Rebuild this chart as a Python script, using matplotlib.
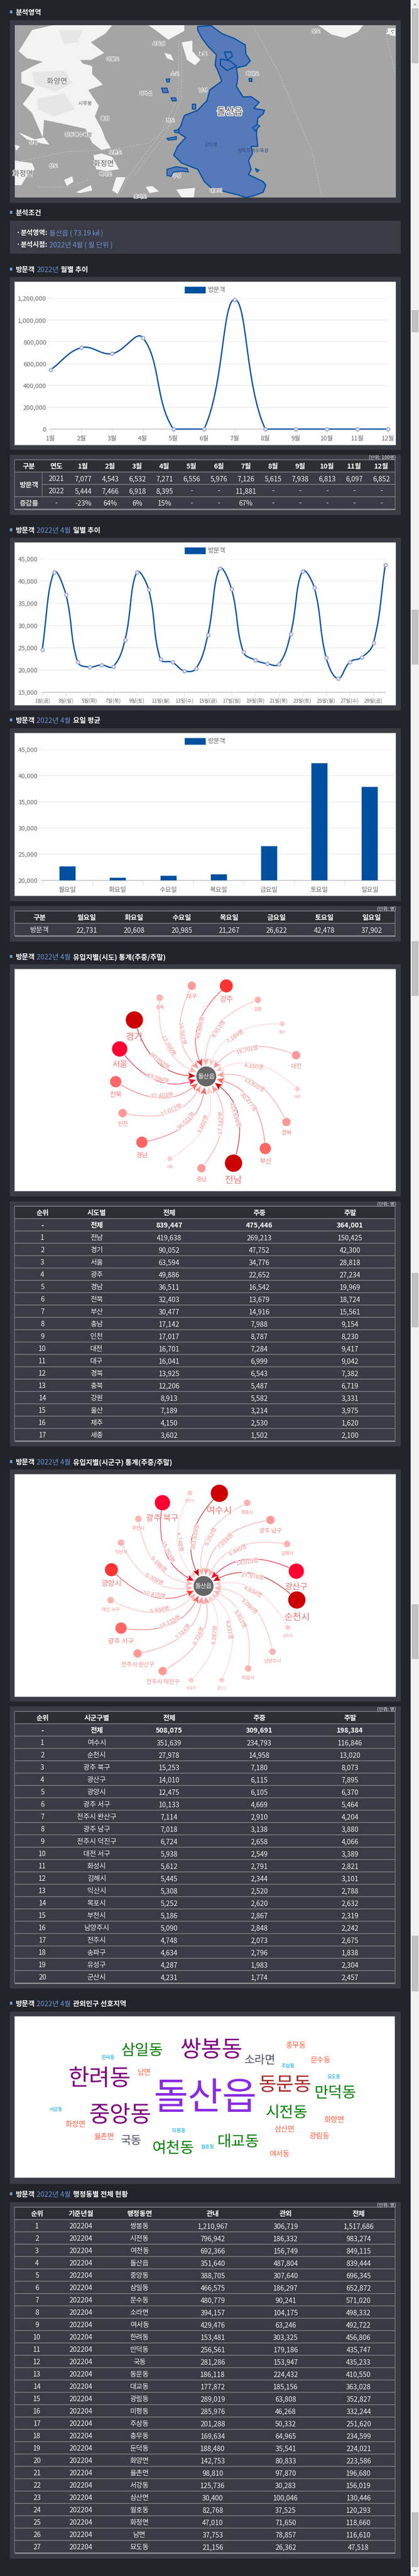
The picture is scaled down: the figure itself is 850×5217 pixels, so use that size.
import math
import matplotlib
matplotlib.use('Agg')
import matplotlib.pyplot as plt
from matplotlib.patches import Rectangle, Circle, Polygon, PathPatch, Patch
from matplotlib.path import Path
import matplotlib.patheffects as pe
from matplotlib.ticker import FuncFormatter

plt.rcParams['font.family'] = ['Noto Sans CJK KR', 'DejaVu Sans']

# ---------- data ----------
months = ['1월', '2월', '3월', '4월', '5월', '6월', '7월', '8월', '9월', '10월', '11월', '12월']
visitors_2021 = [7077, 4543, 6532, 7271, 6556, 5976, 7126, 5615, 7938, 6813, 6097, 6852]
visitors_2022 = [5444, 7466, 6918, 8395, None, None, 11881, None, None, None, None, None]
change_rate = ['-23%', '64%', '6%', '15%', '-', '-', '67%', '-', '-', '-', '-', '-']

day_labels = ['1일(금)', '3일(일)', '5일(화)', '7일(목)', '9일(토)', '11일(월)', '13일(수)', '15일(금)',
              '17일(일)', '19일(화)', '21일(목)', '23일(토)', '25일(월)', '27일(수)', '29일(금)']
daily_visitors = [24600, 42040, 37000, 21800, 20670, 21150, 20780, 26780, 42040, 38070,
                  22400, 21740, 19820, 20330, 27850, 42850, 38260, 24070, 22260, 21440,
                  21330, 28150, 42260, 38520, 22820, 18070, 21820, 22850, 26070, 43670]

weekdays = ['월요일', '화요일', '수요일', '목요일', '금요일', '토요일', '일요일']
weekday_avg = [22731, 20608, 20985, 21267, 26622, 42478, 37902]

sido_names = ['전남', '경기', '서울', '광주', '경남', '전북', '부산', '충남', '인천', '대전', '대구',
              '경북', '충북', '강원', '울산', '제주', '세종']
sido_total = [419638, 90052, 63594, 49886, 36511, 32403, 30477, 17142, 17017, 16701, 16041,
              13925, 12206, 8913, 7189, 4150, 3602]
sido_weekday = [269213, 47752, 34776, 22652, 16542, 13679, 14916, 7988, 8787, 7284, 6999,
                6543, 5487, 5582, 3214, 2530, 1502]
sido_weekend = [150425, 42300, 28818, 27234, 19969, 18724, 15561, 9154, 8230, 9417, 9042,
                7382, 6719, 3331, 3975, 1620, 2100]
sido_sum = [839447, 475446, 364001]

sgg_names = ['여수시', '순천시', '광주 북구', '광산구', '광양시', '광주 서구', '전주시 완산구', '광주 남구',
             '전주시 덕진구', '대전 서구', '화성시', '김해시', '익산시', '목포시', '부천시', '남양주시',
             '전주시', '송파구', '유성구', '군산시']
sgg_total = [351639, 27978, 15253, 14010, 12475, 10133, 7114, 7018, 6724, 5938, 5612, 5445,
             5308, 5252, 5186, 5090, 4748, 4634, 4287, 4231]
sgg_weekday = [234793, 14958, 7180, 6115, 6105, 4669, 2910, 3138, 2658, 2549, 2791, 2344,
               2520, 2620, 2867, 2848, 2073, 2796, 1983, 1774]
sgg_weekend = [116846, 13020, 8073, 7895, 6370, 5464, 4204, 3880, 4066, 3389, 2821, 3101,
               2788, 2632, 2319, 2242, 2675, 1838, 2304, 2457]
sgg_sum = [508075, 309691, 198384]

dong_names = ['쌍봉동', '시전동', '여천동', '돌산읍', '중앙동', '삼일동', '문수동', '소라면', '여서동', '한려동',
              '만덕동', '국동', '동문동', '대교동', '광림동', '미평동', '주삼동', '충무동', '둔덕동', '화양면',
              '율촌면', '서강동', '삼산면', '월호동', '화정면', '남면', '묘도동']
dong_inside = [1210967, 796942, 692366, 351640, 388705, 466575, 480779, 394157, 429476, 153481,
               256561, 281286, 186118, 177872, 289019, 285976, 201288, 169634, 188480, 142753,
               98810, 125736, 30400, 82768, 47010, 37753, 21156]
dong_outside = [306719, 186332, 156749, 487804, 307640, 186297, 90241, 104175, 63246, 303325,
                179186, 153947, 224432, 185156, 63808, 46268, 50332, 64965, 35541, 80833,
                97870, 30283, 100046, 37525, 71650, 78857, 26362]
dong_all = [1517686, 983274, 849115, 839444, 696345, 652872, 571020, 498332, 492722, 456806,
            435747, 435233, 410550, 363028, 352827, 332244, 251620, 234599, 224021, 223586,
            196680, 156019, 130446, 120293, 118660, 116610, 47518]

cloud_words = ['돌산읍', '쌍봉동', '한려동', '중앙동', '동문동', '삼일동', '만덕동', '시전동', '대교동', '여천동',
               '소라면', '국동', '충무동', '문수동', '남면', '화양면', '화정면', '삼산면', '광림동', '율촌면',
               '여서동', '둔덕동', '주삼동', '묘도동', '서강동', '미평동', '월호동']

# ---------- layout and style (pixels of the page) ----------
W, H = 850, 5217
BG, PANEL, HEAD = '#212429', '#393c44', '#2b2e33'
BLUE_TXT = '#7194da'
LINE = '#0050a0'
GRID = '#eeeeee'
TICK_TXT = '#666666'
RULE = '#6f7278'

fig = plt.figure(figsize=(W / 100, H / 100), dpi=100, facecolor=BG)
page = fig.add_axes([0, 0, 1, 1], zorder=0)
page.set_xlim(0, W)
page.set_ylim(H, 0)
page.axis('off')
renderer = fig.canvas.get_renderer()


def pt(px):
    return px * 0.72


def rect(x0, y0, x1, y1, color, z=1, **kw):
    r = Rectangle((x0, y0), x1 - x0, y1 - y0, facecolor=color, edgecolor='none', zorder=z, **kw)
    page.add_patch(r)
    return r


def txt(x, y, s, px=14, color='white', ha='center', va='center', weight='normal', z=5, **kw):
    return page.text(x, y + 1.8, s, fontsize=pt(px), color=color, ha=ha, va=va, fontweight=weight, zorder=z, **kw)


def heading(y, parts):
    rect(20, y - 3, 25, y + 3, BLUE_TXT)
    x = 31
    for s, blue in parts:
        t = txt(x, y, s, px=14.3, color=BLUE_TXT if blue else 'white', ha='left',
                weight='normal' if blue else 'bold')
        x = t.get_window_extent(renderer).x1 + 4


def panel(y0, y1):
    rect(20, y0, 813, y1, PANEL)


def white(y0, y1, x1=803):
    rect(29.5, y0 - 1, x1 + 0.5, y1 + 1, '#8a8c90', z=1.5)
    rect(30, y0, x1, y1, 'white', z=2)


def unit(y, s):
    txt(803, y - 1, s, px=9.5, color='#b9bbbe', ha='right', weight='bold')


def table_frame(top, nrows, x0=30, x1=802, rh=25, spans=None):
    rect(x0, top, x1, top + rh, HEAD)
    for i in range(nrows + 1):
        y = top + rh * i
        rect(x0, y - 0.8, x1, y + 0.8, RULE, z=3)
    rect(x0, top + rh * nrows, x1, top + rh * nrows + 2, '#8f9195', z=3)
    rect(x0 - 0.5, top, x0 + 0.5, top + rh * nrows, '#8f9195', z=3)
    rect(x1 - 0.5, top, x1 + 0.5, top + rh * nrows, '#8f9195', z=3)


def comma(v):
    return f'{v:,}'


def data_table(top, centers, header, rows, bold_rows=(), rh=25):
    table_frame(top, len(rows) + 1, rh=rh)
    for c, s in zip(centers, header):
        txt(c, top + rh / 2, s, weight='bold')
    for i, row in enumerate(rows):
        y = top + rh * (i + 1.5)
        for c, s in zip(centers, row):
            txt(c, y, s, weight='bold' if i in bold_rows else 'normal',
                color='white' if i in bold_rows else '#f2f2f2')


def chart_axes(x0, ytop, x1, ybot):
    ax = fig.add_axes([x0 / W, 1 - ybot / H, (x1 - x0) / W, (ybot - ytop) / H], zorder=2)
    ax.patch.set_alpha(0)
    for s in ('top', 'left', 'right'):
        ax.spines[s].set_visible(False)
    ax.spines['bottom'].set_color('#cccccc')
    ax.spines['bottom'].set_linewidth(pt(2))
    ax.set_axisbelow(True)
    ax.yaxis.grid(True, color=GRID, linewidth=pt(2))
    ax.yaxis.set_major_formatter(FuncFormatter(lambda v, _: f'{int(v):,}'))
    ax.tick_params(axis='y', length=pt(8), width=pt(2), color=GRID, labelsize=pt(13), labelcolor=TICK_TXT, pad=pt(1))
    ax.tick_params(axis='x', length=pt(9), width=pt(1), color='#dddddd', labelsize=pt(13), labelcolor=TICK_TXT, pad=pt(4))
    return ax


def legend(ax, x, y):
    ax.legend(handles=[Patch(facecolor=LINE, edgecolor='#bcd0e6', linewidth=0.6, label='방문객')],
              loc='center', bbox_to_anchor=(x / W, 1 - y / H), bbox_transform=fig.transFigure,
              frameon=False, fontsize=pt(13), handlelength=3.3, handleheight=1.25,
              handletextpad=0.4, labelcolor=TICK_TXT, borderpad=0)


def spline(ax, xs, ys, tension=0.4):
    pts = ax.transData.transform(list(zip(xs, ys)))
    ybox = ax.get_window_extent(renderer)
    n = len(pts)
    nxt, prv = [None] * n, [None] * n
    for i in range(n):
        p0 = pts[max(i - 1, 0)]
        p1 = pts[i]
        p2 = pts[min(i + 1, n - 1)]
        d01 = math.dist(p0, p1)
        d12 = math.dist(p1, p2)
        s = d01 + d12
        fa = tension * d01 / s
        fb = tension * d12 / s
        prv[i] = (p1[0] - fa * (p2[0] - p0[0]), min(max(p1[1] - fa * (p2[1] - p0[1]), ybox.y0), ybox.y1))
        nxt[i] = (p1[0] + fb * (p2[0] - p0[0]), min(max(p1[1] + fb * (p2[1] - p0[1]), ybox.y0), ybox.y1))
    verts, codes = [tuple(pts[0])], [Path.MOVETO]
    for i in range(n - 1):
        verts += [nxt[i], prv[i + 1], tuple(pts[i + 1])]
        codes += [Path.CURVE4] * 3
    inv = ax.transData.inverted()
    patch = PathPatch(Path(inv.transform(verts), codes), facecolor='none', edgecolor=LINE,
                      linewidth=pt(2.6), clip_on=False, zorder=3)
    ax.add_patch(patch)
    ax.plot(xs, ys, linestyle='none', marker='o', markersize=pt(6.5), markerfacecolor='white',
            markeredgecolor='#a3aad9', markeredgewidth=pt(2.4), clip_on=False, zorder=4)


def network(cx, cy, names, values, tiers, layout, y0):
    colors = ['#cc0000', '#ff0033', '#ff3333', '#ff6666', '#ff9999', '#ffb3b3', '#ffcccc']
    radii = [18, 16, 13.7, 12, 9, 7.2, 5.5]
    ems = [19, 17, 15, 13.5, 11.7, 9.5, 7.5]
    label_c = ['#f07878', '#f07878', '#f27c7c', '#f48080', '#f68686', '#f79090', '#f9a0a0']
    for name, val, tier, (zx, zy) in zip(names, values, tiers, layout):
        nx, ny = zx / 1.845, y0 + zy / 3
        col, r, em = colors[tier], radii[tier], ems[tier]
        dx, dy = cx - nx, cy - ny
        d = math.hypot(dx, dy)
        ux, uy = dx / d, dy / d
        ctrl = ((nx + cx) / 2 - uy * 0.36 * d, (ny + cy) / 2 + ux * 0.36 * d)
        ex, ey = cx - ctrl[0], cy - ctrl[1]
        e = math.hypot(ex, ey)
        ex, ey = ex / e, ey / e
        tip = (cx - ex * 21.5, cy - ey * 21.5)
        base = (tip[0] - ex * 16, tip[1] - ey * 16)
        page.add_patch(PathPatch(Path([(nx, ny), ctrl, (tip[0] - ex * 11, tip[1] - ey * 11)],
                                      [Path.MOVETO, Path.CURVE3, Path.CURVE3]),
                                 facecolor='none', edgecolor=col, linewidth=pt(1.1), zorder=3))
        page.add_patch(Polygon([tip, (base[0] - ey * 7, base[1] + ex * 7),
                                (tip[0] - ex * 12.5, tip[1] - ey * 12.5),
                                (base[0] + ey * 7, base[1] - ex * 7)],
                               closed=True, facecolor=col, edgecolor='white', linewidth=pt(0.5), zorder=3.5))
        page.add_patch(Circle((nx, ny), r, facecolor=col, edgecolor='white', linewidth=pt(1), zorder=4))
        txt(nx, ny + r + em / 2 + 7.5 - 1.8, name, px=em, color=label_c[tier])
        lx = 0.25 * nx + 0.5 * ctrl[0] + 0.25 * cx
        ly = 0.25 * ny + 0.5 * ctrl[1] + 0.25 * cy
        ang = math.degrees(math.atan2(-dy, dx))
        if ang > 90:
            ang -= 180
        elif ang < -90:
            ang += 180
        t = page.text(lx, ly, f'{val:,}명', fontsize=pt(11.5), color='#f58a8a', ha='center', va='center',
                      rotation=ang, rotation_mode='anchor', zorder=4.5,
                      family=['Liberation Sans', 'Noto Sans CJK KR'])
        t.set_path_effects([pe.withStroke(linewidth=2, foreground='white')])
    page.add_patch(Circle((cx, cy), 20.7, facecolor='#666666', edgecolor='white', linewidth=pt(1), zorder=5))
    txt(cx, cy - 1, '돌산읍', px=12.5, color='white', z=6)


# ---------- scrollbar strip ----------
rect(833.5, 0, W, H, '#f1f1f1', z=0.5)
for a, b in [(17, 128), (628, 673), (1235, 1346), (1906, 2017), (2578, 2688), (3249, 3360), (3920, 4033), (5088, 5199)]:
    rect(835, a, 849, b, '#c1c1c1', z=0.6)
page.add_patch(Polygon([(838.5, 10.5), (845.5, 10.5), (842, 6.5)], facecolor='#a3a3a3', zorder=0.7))
page.add_patch(Polygon([(838.5, 5205), (845.5, 5205), (842, 5209)], facecolor='#a3a3a3', zorder=0.7))

# ---------- section: map ----------
heading(24, [('분석영역', False)])
panel(41, 411)
rect(30, 51, 803, 400, '#a5a5a5', z=2)
clip = Rectangle((30, 51), 773, 349, transform=page.transData)


def mp(seq):
    return [(x / 1.845, y / 2.8) for x, y in seq]


land = [
    [(70, 290), (120, 170), (200, 142), (420, 142), (395, 190), (340, 240), (390, 300), (340, 340), (300, 340),
     (310, 360), (345, 375), (345, 420), (385, 480), (330, 510), (370, 600), (355, 660), (380, 730), (395, 790),
     (415, 840), (380, 850), (345, 810), (320, 730), (230, 700), (165, 680), (160, 780), (120, 640), (85, 590),
     (130, 500), (80, 470), (80, 410), (130, 370), (160, 350), (100, 330)],
    [(350, 880), (380, 870), (420, 890), (445, 960), (400, 970), (360, 960)],
    [(55, 910), (120, 925), (130, 960), (100, 1000), (80, 1050), (55, 1050)],
    [(1190, 142), (1360, 142), (1340, 180), (1290, 215), (1240, 195)],
    [(1450, 160), (1480, 160), (1480, 205), (1460, 200)],
    [(555, 142), (690, 142), (690, 175), (630, 225), (590, 180)],
    [(680, 240), (720, 230), (720, 290), (750, 340), (730, 370), (700, 340), (690, 290)],
    [(615, 300), (640, 310), (650, 345), (625, 330)],
    [(70, 750), (130, 790), (165, 780), (185, 820), (160, 815), (100, 790)],
    [(240, 1020), (270, 1000), (275, 1030), (250, 1055)],
    [(435, 1005), (470, 1005), (450, 1070), (440, 1100), (420, 1080)],
    [(545, 1060), (570, 1055), (595, 1085), (560, 1095)],
    [(660, 1075), (730, 1065), (725, 1121), (680, 1121)],
    [(285, 1090), (340, 1050), (345, 1080), (300, 1095)],
    [(55, 820), (75, 830), (60, 855)],
]
for poly in land:
    p = Polygon(mp(poly), closed=True, facecolor='#f3f3f3', edgecolor='none', zorder=2.1)
    page.add_patch(p)
    p.set_clip_path(clip)
for poly in [[(120, 410), (240, 400), (270, 470), (210, 520), (130, 480)],
             [(140, 560), (240, 530), (280, 620), (200, 660), (140, 620)],
             [(220, 170), (310, 170), (290, 240), (240, 250)]]:
    page.add_patch(Polygon(mp(poly), closed=True, facecolor='#e6e6e6', edgecolor='none', zorder=2.15))
for route in [[(945, 142), (1040, 400), (1170, 870), (1205, 1121)],
              [(670, 230), (665, 560), (600, 760), (480, 1000), (440, 1121)],
              [(60, 920), (250, 860), (420, 850), (560, 810), (640, 700)],
              [(680, 240), (680, 560), (620, 760), (500, 1000)],
              [(1445, 200), (1480, 420)],
              [(330, 1020), (260, 1060), (140, 1060)]]:
    xs, ys = zip(*mp(route))
    ln, = page.plot(xs, ys, color='#c4c4c4', linewidth=pt(1.2), linestyle=(0, (3, 2)), zorder=2.2)
    ln.set_clip_path(clip)
dolsan_outer = [(740, 150), (790, 145), (830, 190), (880, 220), (918, 255), (920, 305), (937, 345), (920, 372), (885, 385),
                (890, 440), (885, 490), (910, 550), (940, 548), (970, 580), (950, 615), (990, 625), (985, 645), (965, 670),
                (960, 760), (965, 830), (940, 830), (945, 870), (930, 910), (940, 960), (930, 990), (985, 1030), (995, 1050),
                (985, 1090), (950, 1110), (920, 1120), (890, 1105), (850, 1090), (790, 1065), (765, 1030), (740, 960), (680, 925),
                (650, 880), (665, 830), (695, 780), (660, 745), (675, 720), (690, 655), (740, 625), (775, 570), (785, 510),
                (830, 460), (815, 400), (805, 370), (810, 310), (780, 265), (755, 215), (740, 170)]
dolsan_hole1 = [(825, 335), (860, 345), (885, 375), (850, 400), (825, 370)]
dolsan_hole2 = [(840, 295), (865, 295), (870, 320), (850, 340)]
verts, codes = [], []
for poly in (dolsan_outer, dolsan_hole1, dolsan_hole2):
    m = mp(poly)
    verts += m + [m[0]]
    codes += [Path.MOVETO] + [Path.LINETO] * (len(m) - 1) + [Path.CLOSEPOLY]
p = PathPatch(Path(verts, codes), facecolor='#5679b9', edgecolor='#0050a2', linewidth=pt(2.4), zorder=2.5, joinstyle='round')
page.add_patch(p)
p.set_clip_path(clip)
for poly in [[(625, 960), (660, 945), (700, 955), (705, 975), (680, 970), (650, 975), (640, 1000), (625, 995)],
             [(605, 500), (625, 500), (630, 525), (610, 525)], [(640, 555), (658, 555), (660, 572), (645, 572)],
             [(720, 590), (732, 590), (732, 620), (720, 620)], [(622, 448), (635, 448), (633, 465), (625, 465)],
             [(940, 408), (952, 408), (952, 422), (940, 422)], [(932, 445), (942, 445), (942, 463), (934, 463)],
             [(538, 520), (555, 520), (555, 533), (538, 533)], [(625, 785), (660, 775), (660, 790), (630, 795)],
             [(945, 725), (962, 705), (972, 715), (955, 742)], [(955, 955), (970, 965), (962, 975)],
             [(652, 740), (670, 735), (670, 752), (655, 752)]]:
    page.add_patch(Polygon(mp(poly), closed=True, facecolor='#5679b9', edgecolor='#0050a2', linewidth=pt(2), zorder=2.5))
halo = [pe.withStroke(linewidth=1.6, foreground='#eeeeee')]
for zx, zy, s, px in [(213, 458, '화양면', 15), (388, 925, '화정면', 15), (85, 982, '화정면', 15),
                      (318, 582, '시루봉', 10), (293, 760, '장등해수욕장', 10),
                      (594, 245, '서득성', 9.5), (422, 332, '마월도', 9.5), (760, 302, '노도', 9.5),
                      (655, 415, '소도', 9.5), (945, 415, '화태도', 9.5), (760, 508, '남성', 9.5), (545, 527, '가막섬', 9.5),
                      (638, 680, '정도', 9.5), (393, 668, '돌섬', 9.5), (432, 862, '오른도', 9.5), (395, 985, '백야도', 9.5),
                      (200, 938, '상도', 9.5), (125, 805, '상화', 9.5), (1183, 175, '장도', 9.5), (1462, 180, '노도', 9.5),
                      (808, 1078, '대포리', 9.5), (525, 1112, '호리도', 9.5), (662, 995, '구성', 9.5)]:
    t = txt(zx / 1.845, zy / 2.8, s, px=px, color='#666666', z=2.7)
    t.set_path_effects(halo)
txt(790 / 1.845, 815 / 2.8, '갈미봉', px=10, color='#2f4f85', z=2.7)
txt(946 / 1.845, 850 / 2.8, '방죽포해수욕장', px=10, color='#2f4f85', z=2.7)
t = txt(860 / 1.845, 630 / 2.8, '돌산읍', px=19, color='#444444', z=2.8)
t.set_path_effects([pe.withStroke(linewidth=2.5, foreground='white')])

# ---------- section: conditions ----------
heading(430, [('분석조건', False)])
panel(447, 514)
for y, a, b in [(470, '·', '분석영역:'), (494, '·', '분석시점:')]:
    txt(32, y, a, px=14, ha='left', weight='bold')
    t = txt(41, y, b, px=13.7, ha='left', weight='bold')
    v = '돌산읍 ( 73.19 ㎢ )' if y == 470 else '2022년 4월 ( 월 단위 )'
    txt(t.get_window_extent(renderer).x1 + 4, y, v, px=14, color=BLUE_TXT, ha='left')

# ---------- section: monthly ----------
heading(545, [('방문객', False), ('2022년', True), ('월별 추이', False)])
panel(561, 911)
white(571, 901)
ax1 = chart_axes(103, 604, 787, 869)
monthly_chart = [(v or 0) * 100 for v in visitors_2022]
ax1.set_xlim(0, 11)
ax1.set_ylim(0, 1200000)
ax1.set_yticks(range(0, 1200001, 200000))
ax1.set_xticks(range(12))
ax1.set_xticklabels(months)
spline(ax1, list(range(12)), monthly_chart)
legend(ax1, 416, 587)

panel(921, 1043)
unit(926, '(단위: 100명)')
ct = 931
table_frame(ct, 4)
rect(30, ct + 25 * 1 - 0.8, 86, ct + 25 * 3 + 0.8, PANEL, z=3.1)
rect(30, ct + 25 - 0.8, 86, ct + 25 + 0.8, RULE, z=3.2)
rect(30, ct + 75 - 0.8, 86, ct + 75 + 0.8, RULE, z=3.2)
rect(85.5, ct + 25, 86.5, ct + 75, '#8f9195', z=3.2)
rect(29.5, ct, 30.5, ct + 100, '#8f9195', z=3.2)
mx = [168.6 + 55 * i for i in range(12)]
txt(58.5, ct + 12.5, '구분', weight='bold')
txt(114, ct + 12.5, '연도', weight='bold')
for x, m in zip(mx, months):
    txt(x, ct + 12.5, m, weight='bold')
txt(58.5, ct + 50, '방문객', weight='bold', color='#f2f2f2')
txt(114, ct + 37.5, '2021', color='#f2f2f2')
txt(114, ct + 62.5, '2022', color='#f2f2f2')
txt(58.5, ct + 87.5, '증감률', weight='bold', color='#d8d8d8')
txt(114, ct + 87.5, '-', color='#f2f2f2')
for x, a, b, c in zip(mx, visitors_2021, visitors_2022, change_rate):
    txt(x, ct + 37.5, comma(a), color='#f2f2f2')
    txt(x, ct + 62.5, comma(b) if b else '-', color='#f2f2f2')
    txt(x, ct + 87.5, c, color='#f2f2f2')

# ---------- section: daily ----------
heading(1073, [('방문객', False), ('2022년 4월', True), ('일별 추이', False)])
panel(1089, 1439)
white(1099, 1428)
ax2 = chart_axes(85.6, 1132, 781.6, 1402)
days = list(range(1, 31))
ax2.set_xlim(1, 30)
ax2.set_ylim(15000, 45000)
ax2.set_yticks(range(15000, 45001, 5000))
ax2.set_xticks(days[::2])
ax2.set_xticklabels(day_labels)
ax2.tick_params(axis='x', labelsize=pt(10.3), length=pt(8))
spline(ax2, days, daily_visitors)
legend(ax2, 416, 1115)

# ---------- section: weekday ----------
heading(1458, [('방문객', False), ('2022년 4월', True), ('요일 평균', False)])
panel(1475, 1825)
white(1485, 1814)
ax3 = chart_axes(85.6, 1518, 801, 1783)
ax3.set_xlim(-0.5, 6.5)
ax3.set_ylim(20000, 45000)
ax3.set_yticks(range(20000, 45001, 5000))
ax3.set_xticks(range(7))
ax3.set_xticklabels(weekdays)
ax3.set_xticks([i - 0.5 for i in range(8)], minor=True)
ax3.tick_params(axis='x', which='major', length=0, pad=pt(13))
ax3.tick_params(axis='x', which='minor', length=pt(10), width=pt(1), color='#dddddd')
ax3.bar(range(7), weekday_avg, width=33 / 102.2, color=LINE, edgecolor='#b5cbe3', linewidth=0.5, zorder=3)
legend(ax3, 416, 1501)

panel(1835, 1907)
unit(1840, '(단위: 명)')
wk_c = [80, 176, 272, 368.6, 464.5, 561, 657.5, 754]
data_table(1845, wk_c, ['구분'] + weekdays, [['방문객'] + [comma(v) for v in weekday_avg]], bold_rows=())

# ---------- section: inflow by province ----------
heading(1937, [('방문객', False), ('2022년 4월', True), ('유입지별(시도) 통계(주중/주말)', False)])
panel(1953, 2423)
white(1963, 2412)
net1_tiers = [0, 0, 1, 2, 3, 3, 3, 4, 4, 4, 4, 4, 5, 5, 6, 6, 6]
net1_layout = [(874, 1217), (503, 347), (448, 523), (847, 140), (531, 1090), (433, 722), (993, 1128),
               (754, 1248), (459, 913), (1108, 561), (718, 139), (1072, 967), (598, 212), (965, 225),
               (1057, 370), (1113, 766), (636, 1190)]
network(418.4, 2180, sido_names, sido_total, net1_tiers, net1_layout, 1950)

panel(2433, 2929)
unit(2438, '(단위: 명)')
sd_c = [86, 196, 343, 526, 710]
rows = [['-', '전체'] + [comma(v) for v in sido_sum]]
for i, n in enumerate(sido_names):
    rows.append([str(i + 1), n, comma(sido_total[i]), comma(sido_weekday[i]), comma(sido_weekend[i])])
data_table(2443, sd_c, ['순위', '시도별', '전체', '주중', '주말'], rows, bold_rows=(0,))

# ---------- section: inflow by city ----------
heading(2960, [('방문객', False), ('2022년 4월', True), ('유입지별(시군구) 통계(주중/주말)', False)])
panel(2976, 3446)
white(2986, 3435.5)
net2_tiers = [0, 0, 1, 1, 2, 3, 4, 4, 4, 5, 5, 5, 5, 5, 5, 5, 6, 6, 6, 6]
net2_layout = [(821, 433), (1111, 1081), (608, 490), (1109, 906), (417, 897), (453, 1252), (515, 1406),
               (1012, 595), (609, 1513), (414, 1082), (929, 1497), (1074, 741), (453, 733), (925, 491),
               (518, 588), (1020, 1395), (711, 431), (1077, 1248), (716, 1568), (830, 1568)]
network(413, 3212, sgg_names, sgg_total, net2_tiers, net2_layout, 2880)

panel(3456, 4027)
unit(3461, '(단위: 명)')
rows = [['-', '전체'] + [comma(v) for v in sgg_sum]]
for i, n in enumerate(sgg_names):
    rows.append([str(i + 1), n, comma(sgg_total[i]), comma(sgg_weekday[i]), comma(sgg_weekend[i])])
data_table(3466, sd_c, ['순위', '시군구별', '전체', '주중', '주말'], rows, bold_rows=(0,))

# ---------- section: word cloud ----------
heading(4057, [('방문객', False), ('2022년 4월', True), ('관외인구 선호지역', False)])
panel(4074, 4423)
white(4084, 4410, x1=801)
cloud_px = [76, 46, 46, 46, 39, 31, 31, 31, 31, 31, 23, 23, 15, 15, 15, 15, 15, 15, 15, 15, 15, 10, 10, 10, 10, 10, 10]
cloud_colors = ['#8a2be2', '#800080', '#800080', '#800080', '#a52a2a', '#008000', '#008000', '#008000', '#008000', '#008000',
                '#4b4b6b', '#4b4b6b'] + ['#ff6347'] * 9 + ['#00a5e0'] * 6
cloud_layout = [(768, 962), (790, 665), (373, 840), (451, 1062), (1067, 878), (532, 670), (1255, 930), (1072, 1047),
                (892, 1225), (648, 1265), (974, 727), (490, 1218), (1106, 640), (1199, 730), (539, 805), (1252, 1092),
                (283, 1120), (1064, 1150), (1196, 1192), (389, 1194), (1046, 1300), (405, 712), (1078, 763), (1249, 828),
                (208, 1027), (669, 1155), (778, 1254)]
for w, px, c, (zx, zy) in zip(cloud_words, cloud_px, cloud_colors, cloud_layout):
    txt(zx / 1.845, 3930 + zy / 3 - 1.8, w, px=px, color=c, z=3)

# ---------- section: dong table ----------
heading(4443, [('방문객', False), ('2022년 4월', True), ('행정동별 전체 현황', False)])
panel(4460, 5182)
unit(4465, '(단위: 명)')
dg_c = [75, 164, 283, 431.4, 579.4, 727.4]
rows = []
for i, n in enumerate(dong_names):
    rows.append([str(i + 1), '202204', n, comma(dong_inside[i]), comma(dong_outside[i]), comma(dong_all[i])])
data_table(4470, dg_c, ['순위', '기준년월', '행정동면', '관내', '관외', '전체'], rows)

fig.savefig('out.png', dpi=100, facecolor=BG)
